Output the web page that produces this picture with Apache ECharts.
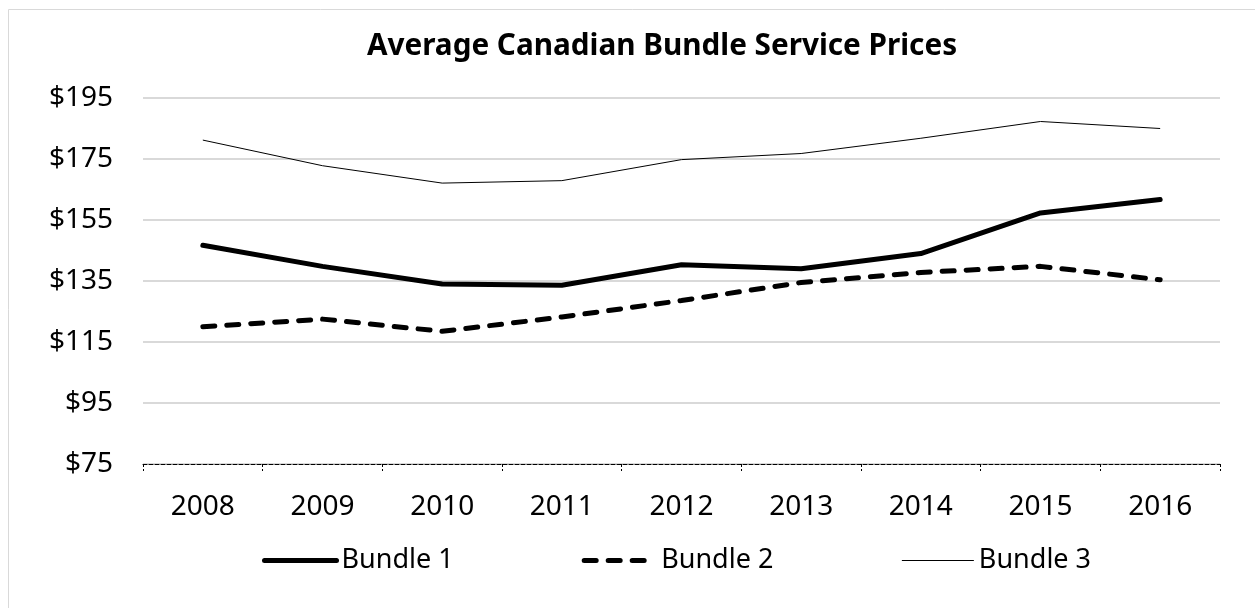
<!DOCTYPE html>
<html>
<head>
<meta charset="utf-8">
<script src="https://cdn.jsdelivr.net/npm/echarts@6/dist/echarts.min.js"></script>
<style>
  html, body { margin: 0; padding: 0; background: #fff; }
  #main { width: 1255px; height: 608px; }
</style>
</head>
<body>
<div id="main"></div>
<script>
var years = ['2008', '2009', '2010', '2011', '2012', '2013', '2014', '2015', '2016'];
var bundle1 = [146.7, 139.8, 134.0, 133.6, 140.3, 139.0, 144.0, 157.3, 161.7];
var bundle2 = [120.0, 122.5, 118.5, 123.2, 128.6, 134.5, 137.8, 139.8, 135.4];
var bundle3 = [181.2, 172.8, 167.1, 167.9, 174.8, 176.8, 181.8, 187.3, 185.0];

var font = 'Noto Sans';
var dash2 = [12, 12];
var chart = echarts.init(document.getElementById('main'));

var option = {
  animation: false,
  title: {
    text: 'Average Canadian Bundle Service Prices',
    left: 657,
    textAlign: 'center',
    top: 27,
    textStyle: { fontFamily: font, fontSize: 29.7, fontWeight: 'bold', color: '#000' }
  },
  graphic: [{
    type: 'rect',
    shape: { x: 8.5, y: 9.5, width: 1260, height: 620 },
    style: { fill: 'none', stroke: '#d9d9d9', lineWidth: 1 },
    silent: true
  }],
  legend: {
    top: 542,
    left: 257,
    itemWidth: 72,
    itemHeight: 14,
    itemGap: 128,
    textStyle: { fontFamily: font, fontSize: 27, color: '#000' },
    data: [
      { name: 'Bundle 1', itemStyle: { opacity: 0 }, lineStyle: { width: 5, color: '#000', cap: 'round' } },
      { name: 'Bundle 2', itemStyle: { opacity: 0 }, lineStyle: { width: 5, color: '#000', type: dash2, cap: 'round' } },
      { name: 'Bundle 3', itemStyle: { opacity: 0 }, lineStyle: { width: 1, color: '#000' } }
    ]
  },
  grid: { left: 143, right: 35, top: 98, bottom: 144 },
  xAxis: {
    type: 'category',
    data: years,
    boundaryGap: true,
    axisLine: { lineStyle: { color: '#000', width: 1, type: [4, 2] } },
    axisTick: { show: true, length: 7, lineStyle: { color: '#000', type: [3, 2] } },
    axisLabel: { fontFamily: font, fontSize: 28, color: '#000', margin: 29 }
  },
  yAxis: {
    type: 'value',
    min: 75,
    max: 195,
    interval: 20,
    axisLine: { show: false },
    axisTick: { show: false },
    axisLabel: {
      fontFamily: font, fontSize: 28, color: '#000', margin: 30,
      formatter: function (v) { return '$' + v; }
    },
    splitLine: { lineStyle: { color: '#d9d9d9', width: 2 } }
  },
  series: [
    {
      name: 'Bundle 1',
      type: 'line',
      data: bundle1,
      symbol: 'none',
      color: '#000',
      lineStyle: { color: '#000', width: 5, cap: 'round' }
    },
    {
      name: 'Bundle 2',
      type: 'line',
      data: bundle2,
      symbol: 'none',
      color: '#000',
      lineStyle: { color: '#000', width: 5, type: dash2, cap: 'round' }
    },
    {
      name: 'Bundle 3',
      type: 'line',
      data: bundle3,
      symbol: 'none',
      color: '#000',
      lineStyle: { color: '#000', width: 1 }
    }
  ]
};
chart.setOption(option);
</script>
</body>
</html>
